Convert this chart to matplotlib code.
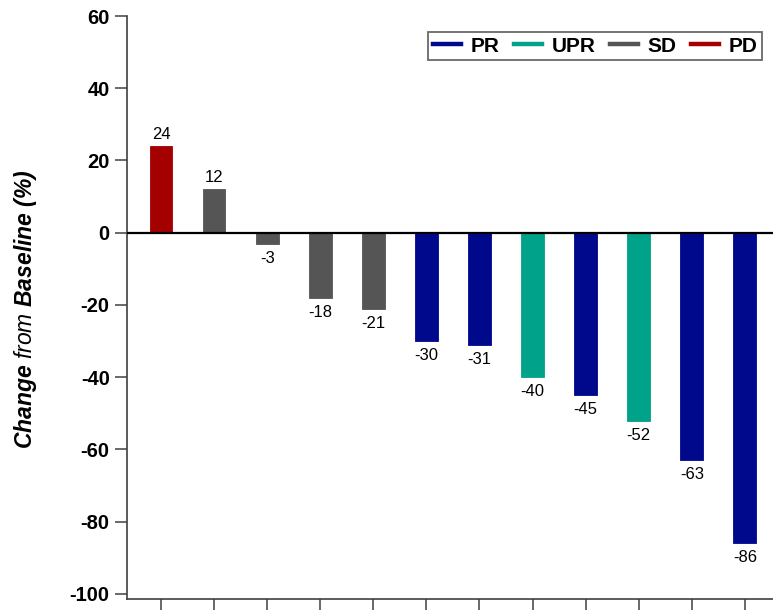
import matplotlib
matplotlib.use("Agg")
import matplotlib.pyplot as plt
from matplotlib.lines import Line2D

plt.rcParams['font.family'] = ['Liberation Sans', 'DejaVu Sans']
plt.rcParams['mathtext.fontset'] = 'custom'
plt.rcParams['mathtext.rm'] = 'Liberation Sans'
plt.rcParams['mathtext.it'] = 'Liberation Sans:italic'
plt.rcParams['mathtext.bf'] = 'Liberation Sans:bold'
plt.rcParams['mathtext.bfit'] = 'Liberation Sans:italic:bold'

# Best percentage change from baseline per patient, sorted
values = [24, 12, -3, -18, -21, -30, -31, -40, -45, -52, -63, -86]
responses = ["PD", "SD", "SD", "SD", "SD", "PR", "PR", "UPR", "PR", "UPR", "PR", "PR"]

legend_order = ["PR", "UPR", "SD", "PD"]
response_colors = {"PR": "#00098C", "UPR": "#00A389", "SD": "#555555", "PD": "#A50000"}

y_ticks = [-100, -80, -60, -40, -20, 0, 20, 40, 60]

fig = plt.figure(figsize=(7.73, 6.10), dpi=100)
ax = fig.add_axes([127 / 773, 11 / 610, 1 - 127 / 773, 583 / 610])

x = list(range(len(values)))
bar_colors = [response_colors[r] for r in responses]
ax.bar(x, values, width=0.43, color=bar_colors, edgecolor=bar_colors,
       linewidth=0.6, zorder=2)

for xi, v in zip(x, values):
    if v >= 0:
        ax.annotate(f"{v}", (xi, v), xytext=(0, 3), textcoords="offset points",
                    ha="center", va="bottom", fontsize=12, color="black")
    else:
        ax.annotate(f"{v}", (xi, v), xytext=(0, -5), textcoords="offset points",
                    ha="center", va="top", fontsize=12, color="black")

ax.axhline(0, color="black", linewidth=1.6, zorder=3)

ax.set_xlim(-0.64, 11.53)
ax.set_ylim(-101.4, 60)
ax.set_yticks(y_ticks)
ax.set_yticklabels([str(t) for t in y_ticks], fontsize=14.5, fontweight="bold")
ax.set_xticks(x)
ax.set_xticklabels([])

spine_color = "#404040"
for side in ("top", "right"):
    ax.spines[side].set_visible(False)
for side in ("left", "bottom"):
    ax.spines[side].set_color(spine_color)
    ax.spines[side].set_linewidth(1.2)
ax.spines["left"].set_bounds(-101.4, 60)
ax.tick_params(axis="both", direction="out", length=8.5, width=1.1,
               color=spine_color, pad=4)

fig.text(26 / 773, 1 - 309 / 610,
         r"$\mathbfit{Change}$ $\mathit{from}$ $\mathbfit{Baseline\ (\%)}$",
         rotation=90, ha="center", va="center", fontsize=16.5)

handles = [Line2D([0], [0], color=response_colors[r], linewidth=3.2) for r in legend_order]
leg = ax.legend(handles, legend_order, loc="upper right", ncol=4,
                bbox_to_anchor=(762 / 773, 1 - 32 / 610), bbox_transform=fig.transFigure,
                prop={"weight": "bold", "size": 15}, frameon=True, fancybox=False,
                edgecolor="#444444", handlelength=1.35, handletextpad=0.45,
                columnspacing=0.7, borderpad=0.22, borderaxespad=0)
leg.get_frame().set_linewidth(1.3)

fig.savefig("out.png", dpi=100)
